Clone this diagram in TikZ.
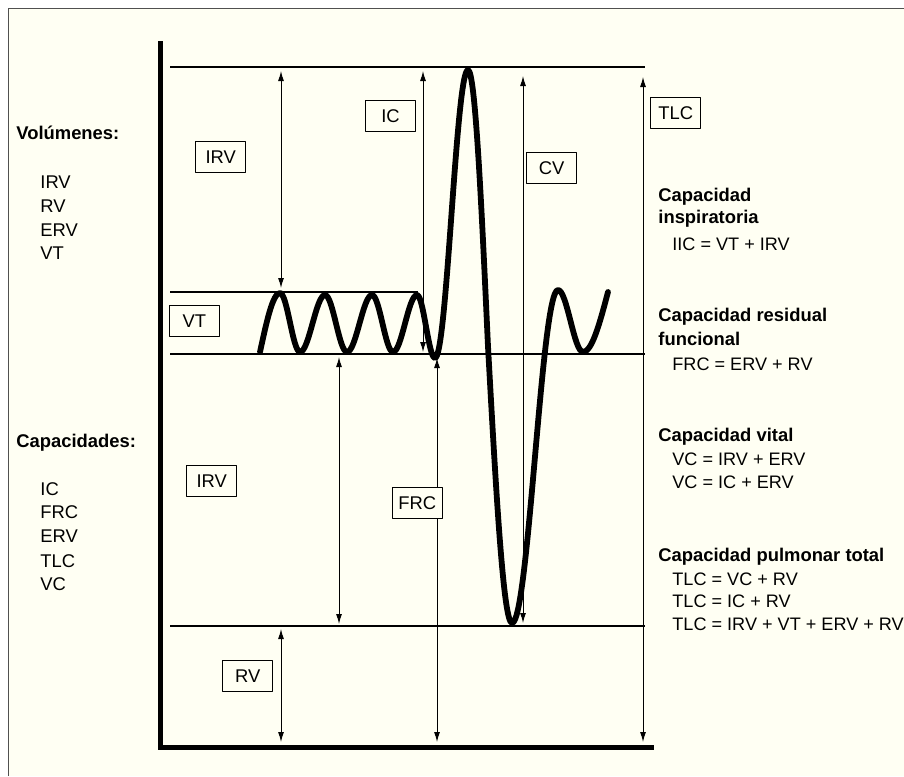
\documentclass[tikz,border=0pt]{standalone}
\usepackage{fontspec}
\setmainfont{Liberation Sans}
\usetikzlibrary{arrows.meta}
\definecolor{ivory}{RGB}{255,255,243}
\definecolor{framegray}{RGB}{80,80,80}

\begin{document}
\begin{tikzpicture}[x=0.5pt,y=-0.5pt,>={Latex[length=5pt,width=3pt]},line join=round,
  font=\fontsize{9.2}{11}\selectfont,
  level/.style={line width=0.6pt},
  dim/.style={<->,line width=0.5pt},
  lbl/.style={draw,line width=0.6pt,fill=ivory,minimum width=25pt,minimum height=15.5pt,inner sep=0pt},
  txt/.style={anchor=base west,inner sep=0pt},
  head/.style={txt,font=\fontsize{9.2}{11}\selectfont\bfseries},
  formula/.style={txt,font=\fontsize{9.05}{11}\selectfont}]
  \useasboundingbox (0,0) rectangle (904,776);
  \fill[white] (0,0) rectangle (904,776);
  \fill[ivory] (8.5,8.5) rectangle (904,776);
  \draw[framegray,line width=0.6pt] (8.5,776) -- (8.5,8.5) -- (904,8.5);
% ================= levels and dimensions =================
  \foreach \y/\r in {67/645,292/418,354/645,626/645}
      \draw[level] (170,\y) -- (\r,\y);
  \foreach \x/\a/\b in {281/71/288,423/71/352,523/76/623,643/77/742,339/357/624,437/358/742,281/629/742}
      \draw[dim] (\x,\a) -- (\x,\b);
% ================= spirogram =================
  \draw[line width=2.9pt,line cap=round]
      (260,352) sin (280,293) cos (290,322.5) sin (300,352)
      cos (312.5,323.5) sin (325,295) cos (336,323.5) sin (347,352)
      cos (359.5,323.5) sin (372,295) cos (382.5,323.5) sin (393,352)
      cos (405,323.5) sin (417,295) cos (426,326.5) sin (435,358)
      cos (451.5,214) sin (468,70) cos (488,346.5) sin (512,623)
      cos (535,456.5) sin (558,290) cos (570.5,321) sin (583,352)
      cos (608,292);
  \draw[line width=2.8pt,line join=miter] (160.5,41) |- (654,747.5);
% ================= boxed labels =================
  \node[lbl] (irvA) at (220.8,157.3) {IRV};
  \node[lbl] (ic)   at (390.5,116)   {IC};
  \node[lbl] (cv)   at (551.7,168)   {CV};
  \node[lbl] (tlc)  at (675.7,113)   {TLC};
  \node[lbl] (vt)   at (194.3,321.3) {VT};
  \node[lbl] (irvB) at (211.7,481.3) {IRV};
  \node[lbl] (frc)  at (417.2,502.8) {FRC};
  \node[lbl] (rv)   at (247.7,676.2) {RV};
% ================= left lists =================
  \node[head] (vol) at (16,139) {Volúmenes:};
  \foreach \y/\t [count=\i] in {188/IRV,212/RV,236/ERV,259/VT}
      \node[txt] (v\i) at (40,\y) {\t};
  \node[head] (cap) at (16,447) {Capacidades:};
  \foreach \y/\t [count=\i] in {495/IC,518/FRC,542/ERV,567/TLC,590/VC}
      \node[txt] (c\i) at (40,\y) {\t};
% ================= right column =================
  \foreach \y/\t [count=\i] in {201.7/Capacidad,223.5/inspiratoria,321.7/Capacidad residual,
      345/funcional,441.7/Capacidad vital,561.7/Capacidad pulmonar total}
      \node[head] (h\i) at (658,\y) {\t};
  \foreach \y/\t [count=\i] in {250/IIC = VT + IRV,370/FRC = ERV + RV,465/VC = IRV + ERV,
      488/VC = IC + ERV,585/TLC = VC + RV,607/TLC = IC + RV,630/TLC = IRV + VT + ERV + RV}
      \node[formula] (f\i) at (672,\y) {\t};
\end{tikzpicture}
\end{document}
